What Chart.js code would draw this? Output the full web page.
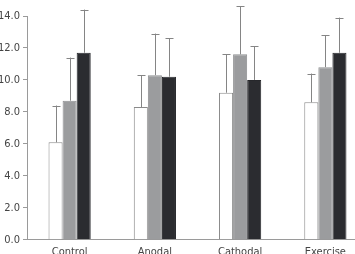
<!DOCTYPE html>
<html>
<head>
<meta charset="utf-8">
<script src="https://cdn.jsdelivr.net/npm/chart.js@4.4.0/dist/chart.umd.min.js"></script>
<style>
  html, body { margin: 0; padding: 0; overflow: hidden; background: #fff; }
  #wrap { position: absolute; left: 0; top: 0; width: 368px; height: 265px; }
</style>
</head>
<body>
<div id="wrap"><canvas id="bars"></canvas></div>
<script>
var categories = ["Control", "Anodal", "Cathodal", "Exercise"];
var seriesNames = ["Series 1", "Series 2", "Series 3"];
var whiteMeans = [6.1, 8.3, 9.2, 8.6];
var grayMeans = [8.7, 10.3, 11.6, 10.8];
var darkMeans = [11.7, 10.2, 10.0, 11.7];
var whiteSD = [2.3, 2.0, 2.4, 1.8];
var graySD = [2.7, 2.6, 3.0, 2.0];
var darkSD = [2.7, 2.4, 2.1, 2.2];
var yTicks = [0, 2, 4, 6, 8, 10, 12, 14];

var fontFamily = '"DejaVu Sans Condensed", "Liberation Sans Narrow", "Liberation Sans", sans-serif';

// draws the upward error whiskers on top of each bar
var errorBars = {
    id: 'errorBars',
    afterDatasetsDraw: function(chart) {
        var ctx = chart.ctx;
        var yScale = chart.scales.y;
        ctx.save();
        ctx.strokeStyle = '#858585';
        ctx.lineWidth = 1;
        chart.data.datasets.forEach(function(ds, i) {
            var meta = chart.getDatasetMeta(i);
            meta.data.forEach(function(bar, j) {
                var top = yScale.getPixelForValue(ds.data[j] + ds.errors[j]);
                var x = Math.round(bar.x) + 0.5;
                ctx.beginPath();
                ctx.moveTo(x, bar.y);
                ctx.lineTo(x, top);
                ctx.moveTo(x - 4, Math.round(top) + 0.5);
                ctx.lineTo(x + 4, Math.round(top) + 0.5);
                ctx.stroke();
            });
        });
        ctx.restore();
    }
};

var bars = new Chart(document.getElementById('bars'), {
    type: 'bar',
    data: {
        labels: categories,
        datasets: [
            { label: seriesNames[0], data: whiteMeans, errors: whiteSD,
              backgroundColor: '#ffffff', borderColor: '#8a8a8a', borderWidth: 1 },
            { label: seriesNames[1], data: grayMeans, errors: graySD,
              backgroundColor: '#9b9c9e', borderColor: '#8f9092', borderWidth: 1 },
            { label: seriesNames[2], data: darkMeans, errors: darkSD,
              backgroundColor: '#2b2c30', borderColor: '#26272b', borderWidth: 1 }
        ]
    },
    options: {
        responsive: true,
        maintainAspectRatio: false,
        animation: false,
        layout: { padding: { top: 16, left: 0, right: 0, bottom: 0 } },
        datasets: {
            bar: { categoryPercentage: 0.495, barPercentage: 1 }
        },
        plugins: {
            legend: { display: false },
            tooltip: { enabled: false }
        },
        scales: {
            x: {
                grid: { display: false, drawTicks: false },
                border: { display: true, color: '#9a9a9a', width: 1 },
                ticks: {
                    color: '#444',
                    padding: 6,
                    font: { family: fontFamily, size: 11 }
                }
            },
            y: {
                min: 0,
                max: 14,
                afterBuildTicks: function(scale) {
                    scale.ticks = yTicks.map(function(v) { return { value: v }; });
                },
                afterFit: function(scale) { scale.width = 27; },
                grid: {
                    display: true,
                    drawOnChartArea: false,
                    drawTicks: true,
                    tickLength: 4,
                    color: '#9a9a9a'
                },
                border: { display: true, color: '#9a9a9a', width: 1 },
                ticks: {
                    color: '#444',
                    padding: 3,
                    font: { family: fontFamily, size: 11 },
                    callback: function(v) { return Number(v).toFixed(1); }
                }
            }
        }
    },
    plugins: [errorBars]
});
</script>
</body>
</html>
